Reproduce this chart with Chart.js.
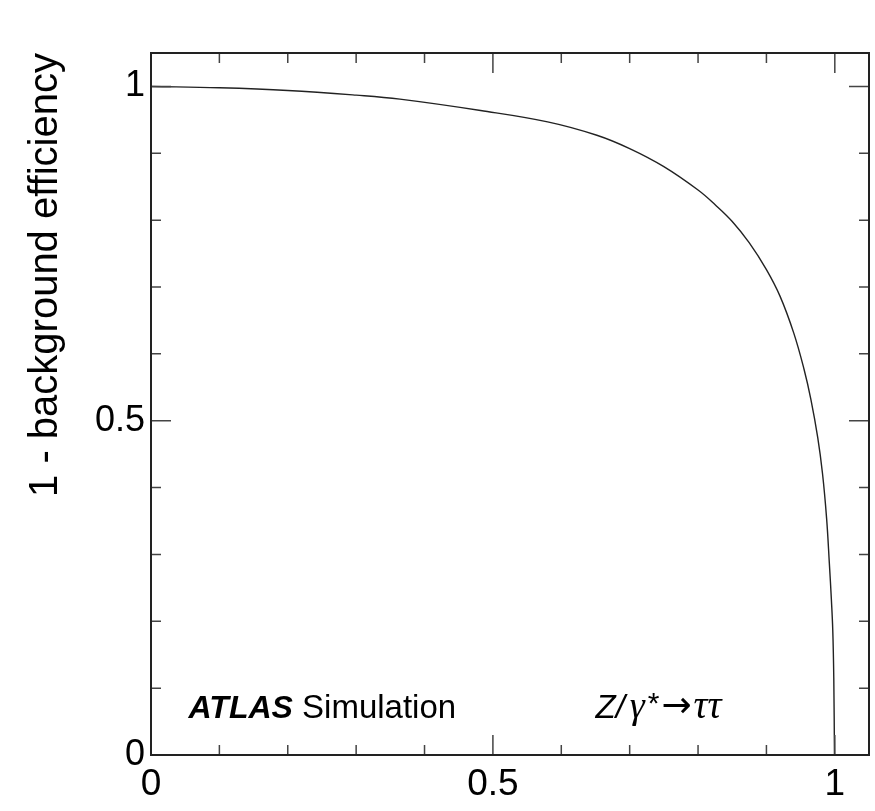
<!DOCTYPE html>
<html>
<head>
<meta charset="utf-8">
<script src="https://cdn.jsdelivr.net/npm/chart.js@4.4.1/dist/chart.umd.min.js"></script>
<style>
  html, body { margin: 0; padding: 0; background: #fff; }
  canvas { display: block; }
</style>
</head>
<body>
<canvas id="roc" width="875" height="811"></canvas>
<script>
// ── Dados ────────────────────────────────────────────────────────
const sigEff = [0, 0.1, 0.2, 0.3, 0.364, 0.482, 0.58, 0.652, 0.7, 0.75, 0.8, 0.825, 0.85, 0.875,
                0.9, 0.92, 0.94, 0.955, 0.965, 0.975, 0.982, 0.988, 0.992, 0.995, 0.997, 0.9985, 0.9995];
const bkgRej = [1.0, 0.998, 0.994, 0.987, 0.981, 0.964, 0.947, 0.927, 0.907, 0.880, 0.845, 0.823, 0.798, 0.766,
                0.726, 0.686, 0.631, 0.577, 0.532, 0.475, 0.421, 0.354, 0.287, 0.232, 0.187, 0.115, 0.0];

const tickValues  = [0, 0.1, 0.2, 0.3, 0.4, 0.5, 0.6, 0.7, 0.8, 0.9, 1.0];
const majorValues = [0, 0.5, 1];
const majorLabels = ['0', '0.5', '1'];

const axisMin = 0, axisMax = 1.05;
const FONT = "'Liberation Sans', Arial, Helvetica, sans-serif";
const SERIF = "'Liberation Serif', 'Times New Roman', serif";

function labelFor(v) {
    const i = majorValues.findIndex(m => Math.abs(m - v) < 1e-6);
    return i >= 0 ? majorLabels[i] : '';
}

// ── Moldura, ticks internos e textos (estilo ROOT) ───────────────
const rootFrame = {
    id: 'rootFrame',
    afterDraw(chart) {
        const { ctx, chartArea: a, scales: { x, y } } = chart;
        ctx.save();
        ctx.strokeStyle = '#444';
        ctx.lineWidth = 1.5;
        ctx.beginPath();
        tickValues.forEach(v => {
            const isMajor = majorValues.some(m => Math.abs(m - v) < 1e-6);
            const len = isMajor ? 20 : 10;
            const px = x.getPixelForValue(v);
            const py = y.getPixelForValue(v);
            ctx.moveTo(px, a.bottom); ctx.lineTo(px, a.bottom - len);
            ctx.moveTo(px, a.top);    ctx.lineTo(px, a.top + len);
            ctx.moveTo(a.left, py);   ctx.lineTo(a.left + len, py);
            ctx.moveTo(a.right, py);  ctx.lineTo(a.right - len, py);
        });
        ctx.stroke();

        ctx.strokeStyle = '#222';
        ctx.lineWidth = 2;
        ctx.strokeRect(a.left, a.top, a.right - a.left, a.bottom - a.top);

        // ATLAS Simulation
        ctx.fillStyle = '#000';
        ctx.textBaseline = 'alphabetic';
        ctx.textAlign = 'left';
        let tx = x.getPixelForValue(0.055);
        const ty = y.getPixelForValue(0.056);
        ctx.font = `italic bold 32px ${FONT}`;
        ctx.fillText('ATLAS', tx, ty);
        tx += ctx.measureText('ATLAS').width;
        ctx.font = `33px ${FONT}`;
        ctx.fillText(' Simulation', tx, ty);

        // Z/γ*→ττ
        let zx = x.getPixelForValue(0.65);
        const parts = [
            { t: 'Z/', f: `italic 33px ${FONT}`, dy: 0, gap: 5 },
            { t: 'γ', f: `italic 38px ${SERIF}`, dy: 0, gap: 3 },
            { t: '*', f: `30px ${FONT}`, dy: -5, gap: 2 },
            { t: '→', f: `36px 'DejaVu Sans', sans-serif`, dy: -1, gap: 2 },
            { t: 'ττ', f: `italic 39px ${SERIF}`, dy: 0, gap: 0 }
        ];
        parts.forEach(p => {
            ctx.font = p.f;
            ctx.fillText(p.t, zx, ty + p.dy);
            zx += ctx.measureText(p.t).width + p.gap;
        });
        ctx.restore();
    }
};

new Chart(document.getElementById('roc'), {
    type: 'line',
    data: {
        datasets: [{
            data: sigEff.map((v, i) => ({ x: v, y: bkgRej[i] })),
            borderColor: '#222',
            borderWidth: 1.4,
            pointRadius: 0,
            fill: false,
            tension: 0.4
        }]
    },
    options: {
        responsive: false,
        animation: false,
        layout: { padding: { top: 53, right: 6, left: 0, bottom: 0 } },
        plugins: { legend: { display: false }, tooltip: { enabled: false } },
        scales: {
            x: {
                type: 'linear',
                min: axisMin, max: axisMax,
                grid: { display: false, drawTicks: false },
                border: { display: false },
                afterBuildTicks: s => { s.ticks = tickValues.map(v => ({ value: v })); },
                afterFit: s => { s.height = 56; },
                ticks: {
                    autoSkip: false, maxRotation: 0, padding: 8,
                    color: '#000', font: { family: FONT, size: 37 },
                    callback: v => labelFor(v)
                }
            },
            y: {
                type: 'linear',
                min: axisMin, max: axisMax,
                grid: { display: false, drawTicks: false },
                border: { display: false },
                afterBuildTicks: s => { s.ticks = tickValues.map(v => ({ value: v })); },
                afterFit: s => { s.width = 151; },
                ticks: {
                    autoSkip: false, padding: 6,
                    color: '#000', font: { family: FONT, size: 36 },
                    callback: v => labelFor(v)
                },
                title: {
                    display: true,
                    text: '1 - background efficiency',
                    align: 'end',
                    color: '#000',
                    font: { family: FONT, size: 40 },
                    padding: { top: 22, bottom: 0 }
                }
            }
        }
    },
    plugins: [rootFrame]
});
</script>
</body>
</html>
